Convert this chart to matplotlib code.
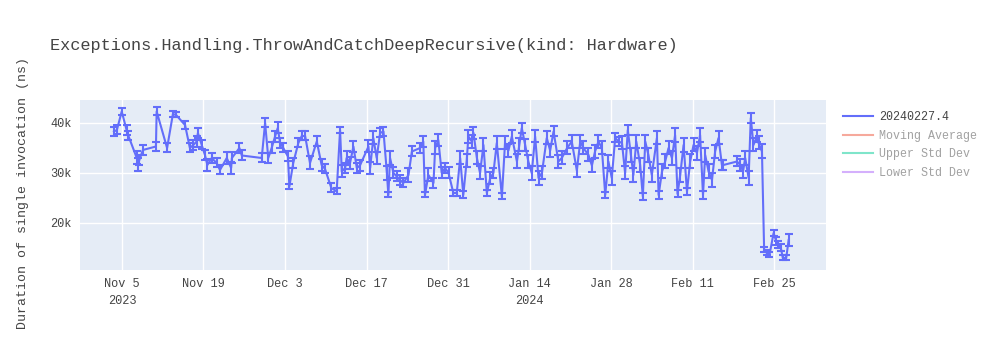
import pandas as pd
import matplotlib
matplotlib.use("Agg")
import matplotlib.pyplot as plt
from matplotlib.lines import Line2D

# benchmark runs (timestamp, mean duration in ns, std dev)
timestamps = [
    "2023-11-03 15:00", "2023-11-04 03:00", "2023-11-04 23:00", "2023-11-05 19:00",
    "2023-11-06 02:00", "2023-11-07 13:00", "2023-11-07 19:00", "2023-11-07 23:00",
    "2023-11-08 14:00", "2023-11-10 20:00", "2023-11-10 23:00", "2023-11-12 18:00",
    "2023-11-13 18:00", "2023-11-14 07:00", "2023-11-15 20:00", "2023-11-16 16:00",
    "2023-11-17 06:00", "2023-11-17 20:00", "2023-11-18 01:00", "2023-11-18 17:00",
    "2023-11-19 06:00", "2023-11-19 16:00", "2023-11-20 10:00", "2023-11-21 06:00",
    "2023-11-21 20:00", "2023-11-23 00:00", "2023-11-23 18:00", "2023-11-23 21:00",
    "2023-11-25 04:00", "2023-11-25 14:00", "2023-11-29 00:00", "2023-11-29 14:00",
    "2023-11-30 03:00", "2023-11-30 17:00", "2023-12-01 07:00", "2023-12-01 18:00",
    "2023-12-02 04:00", "2023-12-02 17:00", "2023-12-03 12:00", "2023-12-03 18:00",
    "2023-12-04 10:00", "2023-12-05 07:00", "2023-12-05 21:00", "2023-12-06 11:00",
    "2023-12-07 07:00", "2023-12-08 11:00", "2023-12-09 07:00", "2023-12-09 21:00",
    "2023-12-10 23:00", "2023-12-11 21:00", "2023-12-12 11:00", "2023-12-12 18:00",
    "2023-12-13 08:00", "2023-12-13 14:00", "2023-12-14 04:00", "2023-12-14 18:00",
    "2023-12-15 08:00", "2023-12-15 21:00", "2023-12-17 08:00", "2023-12-17 15:00",
    "2023-12-18 04:00", "2023-12-18 18:00", "2023-12-19 08:00", "2023-12-19 22:00",
    "2023-12-20 12:00", "2023-12-20 18:00", "2023-12-21 01:00", "2023-12-21 15:00",
    "2023-12-22 05:00", "2023-12-22 18:00", "2023-12-23 08:00", "2023-12-24 05:00",
    "2023-12-24 19:00", "2023-12-26 05:00", "2023-12-26 18:00", "2023-12-27 01:00",
    "2023-12-27 15:00", "2023-12-28 12:00", "2023-12-28 19:00", "2023-12-29 08:00",
    "2023-12-29 22:00", "2023-12-30 12:00", "2023-12-31 02:00", "2023-12-31 22:00",
    "2024-01-01 12:00", "2024-01-02 02:00", "2024-01-02 15:00", "2024-01-03 05:00",
    "2024-01-03 12:00", "2024-01-04 02:00", "2024-01-04 09:00", "2024-01-04 23:00",
    "2024-01-05 12:00", "2024-01-06 02:00", "2024-01-06 16:00", "2024-01-07 06:00",
    "2024-01-07 19:00", "2024-01-08 09:00", "2024-01-09 06:00", "2024-01-09 19:00",
    "2024-01-10 09:00", "2024-01-10 23:00", "2024-01-11 20:00", "2024-01-12 06:00",
    "2024-01-12 16:00", "2024-01-13 06:00", "2024-01-13 19:00", "2024-01-14 09:00",
    "2024-01-14 23:00", "2024-01-15 13:00", "2024-01-16 03:00", "2024-01-16 23:00",
    "2024-01-17 13:00", "2024-01-18 03:00", "2024-01-18 23:00", "2024-01-19 13:00",
    "2024-01-20 11:00", "2024-01-21 06:00", "2024-01-22 03:00", "2024-01-22 17:00",
    "2024-01-23 06:00", "2024-01-24 03:00", "2024-01-24 17:00", "2024-01-25 06:00",
    "2024-01-25 20:00", "2024-01-26 10:00", "2024-01-27 00:00", "2024-01-27 13:00",
    "2024-01-28 03:00", "2024-01-28 17:00", "2024-01-29 07:00", "2024-01-29 21:00",
    "2024-01-30 10:00", "2024-01-30 21:00", "2024-01-31 10:00", "2024-01-31 20:00",
    "2024-02-01 08:00", "2024-02-02 00:00", "2024-02-02 11:00", "2024-02-02 21:00",
    "2024-02-03 10:00", "2024-02-04 00:00", "2024-02-04 21:00", "2024-02-05 04:00",
    "2024-02-05 18:00", "2024-02-06 07:00", "2024-02-06 21:00", "2024-02-07 11:00",
    "2024-02-08 00:00", "2024-02-08 10:00", "2024-02-08 21:00", "2024-02-09 11:00",
    "2024-02-10 01:00", "2024-02-10 14:00", "2024-02-11 04:00", "2024-02-11 18:00",
    "2024-02-12 07:00", "2024-02-12 19:00", "2024-02-13 04:00", "2024-02-13 18:00",
    "2024-02-14 08:00", "2024-02-14 21:00", "2024-02-15 11:00", "2024-02-16 01:00",
    "2024-02-16 07:00", "2024-02-18 15:00", "2024-02-19 05:00", "2024-02-19 16:00",
    "2024-02-20 01:00", "2024-02-20 15:00", "2024-02-21 00:00", "2024-02-21 11:00",
    "2024-02-22 01:00", "2024-02-22 08:00", "2024-02-22 22:00", "2024-02-23 07:00",
    "2024-02-23 18:00", "2024-02-24 05:00", "2024-02-24 22:00", "2024-02-25 09:00",
    "2024-02-25 18:00", "2024-02-26 04:00", "2024-02-26 12:00", "2024-02-27 02:00",
    "2024-02-27 12:00",
]

durations = [
    38300, 38600, 42300, 38600, 37500, 33000, 31600, 32500, 34600, 35300,
    42300, 35000, 41800, 41600, 39600, 35000, 35600, 36300, 38000, 35600,
    33600, 31600, 33000, 32000, 30600, 33000, 31000, 33000, 35000, 33500,
    33000, 40000, 33000, 35000, 37300, 39000, 36000, 35000, 33300, 27300,
    32000, 36000, 37400, 37400, 32000, 36300, 31600, 30800, 27000, 26300,
    38600, 30300, 31000, 33000, 32000, 35300, 31000, 31500, 35300, 31000,
    37000, 33000, 38000, 38300, 30000, 25600, 33000, 30000, 29300, 28600,
    28000, 29600, 34300, 35000, 36300, 25600, 29600, 28000, 35000, 36600,
    30000, 31000, 30000, 26000, 26000, 33000, 25600, 32500, 37300, 36300,
    38000, 33000, 30000, 35600, 26000, 29000, 30000, 36000, 25300, 36000,
    34500, 37300, 32300, 35600, 39000, 35600, 32300, 30000, 37300, 29000,
    30000, 37000, 34500, 38300, 32300, 33000, 35000, 36300, 30500, 36300,
    35000, 33600, 31500, 34300, 36300, 35000, 25600, 32300, 29000, 37000,
    36300, 36000, 30000, 38600, 33600, 29600, 36300, 31600, 25300, 36300,
    33600, 29600, 37000, 25600, 30300, 32300, 35000, 33000, 37600, 25800,
    29600, 35600, 26300, 32300, 35600, 34000, 37600, 25600, 33600, 30300,
    28600, 34300, 37000, 31600, 31600, 32300, 31600, 30300, 33000, 29000,
    41000, 35600, 37300, 36000, 34300, 14600, 14000, 13600, 18000, 16300,
    15600, 15000, 13000, 13000, 16600,
]

std_devs = [
    900, 900, 700, 1000, 900, 1300, 1300, 1000, 1000, 900,
    800, 900, 600, 500, 800, 900, 1000, 1100, 1000, 900,
    1000, 1200, 1000, 900, 900, 1200, 1200, 1100, 1000, 1000,
    900, 900, 1000, 1100, 1100, 1100, 1000, 900, 1000, 500,
    1000, 900, 900, 900, 1300, 1000, 1200, 900, 900, 600,
    600, 1200, 1000, 1400, 1200, 1100, 1000, 1100, 1200, 1200,
    1300, 1200, 900, 900, 1400, 500, 1400, 1100, 1000, 1000,
    900, 1400, 1000, 1000, 1100, 500, 1300, 1000, 1300, 1200,
    1100, 1000, 1100, 600, 600, 1300, 700, 1300, 1300, 1300,
    1200, 1300, 1300, 1300, 600, 1200, 1000, 1300, 600, 1300,
    1300, 1300, 1400, 1300, 1000, 1200, 1300, 1400, 1200, 1400,
    1300, 1300, 1300, 1000, 1300, 1300, 1300, 1300, 1300, 1300,
    1300, 1300, 1300, 1300, 1300, 1300, 600, 1300, 1400, 900,
    900, 1300, 1300, 1000, 1400, 1400, 1300, 1400, 700, 1300,
    1400, 1400, 1300, 800, 1400, 1400, 1300, 1400, 1400, 700,
    1400, 1400, 700, 1400, 1300, 1400, 1400, 800, 1400, 1400,
    1400, 1300, 1300, 1000, 1000, 1000, 1200, 1300, 1400, 1400,
    1000, 1300, 1200, 1300, 1400, 500, 500, 500, 600, 800,
    700, 700, 500, 500, 1200,
]

series_name = "20240227.4"
legend_only = ["Moving Average", "Upper Std Dev", "Lower Std Dev"]
legend_colors = ["#EF553B", "#00CC96", "#AB63FA"]

title = "Exceptions.Handling.ThrowAndCatchDeepRecursive(kind: Hardware)"
y_label = "Duration of single invocation (ns)"

x = pd.to_datetime(timestamps)

plt.rcParams["font.family"] = ["Liberation Mono", "DejaVu Sans Mono"]
text_color = "#444444"

fig = plt.figure(figsize=(10, 3.5), dpi=100)
ax = fig.add_axes([0.08, 0.2286, 0.746, 0.4857])
ax.set_facecolor("#E5ECF6")

ax.errorbar(x, durations, yerr=std_devs, color="#636EFA", lw=1.5,
            elinewidth=1.5, capsize=3.2, capthick=1.5, zorder=3)

ax.set_ylim(10600, 44600)
ax.set_xlim(pd.Timestamp("2023-10-28 19:00"), pd.Timestamp("2024-03-04 22:00"))

yt = [20000, 30000, 40000]
ax.set_yticks(yt)
ax.set_yticklabels([f"{v // 1000}k" for v in yt])

xt = pd.date_range("2023-11-05", "2024-02-25", freq="14D")
ax.set_xticks(xt)
xlabels = []
for d in xt:
    lab = d.strftime("%b ") + str(d.day)
    if d == xt[0] or (d.year == 2024 and d.month == 1 and d.day == 14):
        lab += "\n" + str(d.year)
    xlabels.append(lab)
ax.set_xticklabels(xlabels, linespacing=1.5)

ax.grid(True, color="white", lw=1)
ax.set_axisbelow(True)
for s in ax.spines.values():
    s.set_visible(False)
ax.tick_params(length=0, labelsize=8.6, colors=text_color, pad=6)

ax.set_ylabel(y_label, fontsize=9.5, color=text_color, labelpad=10)
ax.yaxis.set_label_coords(-0.068, 0.45)
fig.text(0.05, 0.87, title, fontsize=12.2, color=text_color, va="center")

handles = [Line2D([], [], color="#636EFA", lw=1.5)]
labels = [series_name]
for name, c in zip(legend_only, legend_colors):
    handles.append(Line2D([], [], color=c, lw=1.5, alpha=0.5))
    labels.append(name)
leg = fig.legend(handles, labels, loc="upper left", bbox_to_anchor=(0.838, 0.695),
                 frameon=False, fontsize=8.4, handlelength=2.6, labelspacing=0.55,
                 handletextpad=0.5, borderaxespad=0)
for i, t in enumerate(leg.get_texts()):
    t.set_color(text_color)
    if i > 0:
        t.set_alpha(0.5)

fig.savefig("out.png", dpi=100)
